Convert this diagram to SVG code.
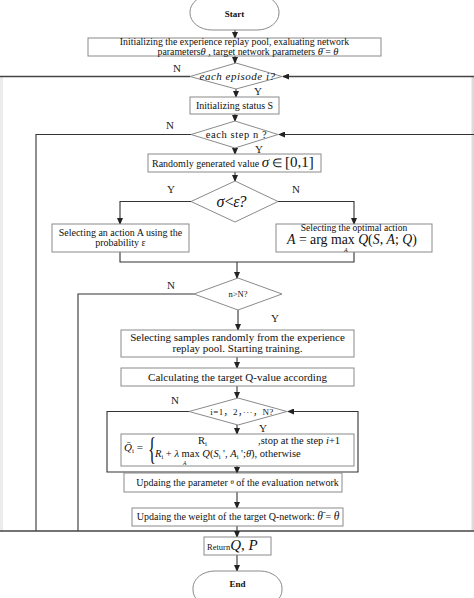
<svg xmlns="http://www.w3.org/2000/svg" width="474" height="598" viewBox="0 0 474 598">
<style>
text{font-family:"Liberation Serif","Times New Roman",serif;fill:#111;}
.t{font-size:10px;}
.c{text-anchor:middle;}
.i{font-style:italic;}
.lab{font-size:11px;text-anchor:middle;fill:#222;}
.box{fill:#fff;stroke:#8a8a8a;stroke-width:1;}
.dia{fill:#fff;stroke:#8a8a8a;stroke-width:1;}
.ln{fill:none;stroke:#333;stroke-width:1.1;}
.ar{fill:none;stroke:#333;stroke-width:1.1;marker-end:url(#ah);}
.frame{fill:none;stroke:#444;stroke-width:1.6;}
</style>
<defs>
<marker id="ah" markerWidth="7" markerHeight="6" refX="6" refY="3" orient="auto" markerUnits="userSpaceOnUse">
<path d="M0,0 L7,3 L0,6 z" fill="#222"/>
</marker>
</defs>
<rect width="474" height="598" fill="#fff"/>
<rect x="0" y="77" width="3" height="454" fill="#ececec"/>
<rect x="471.5" y="77" width="2.5" height="454" fill="#dcdcdc"/>

<g id="connectors">
<line class="ar" x1="235" y1="30" x2="235" y2="38"/>
<line class="ar" x1="235" y1="56" x2="235" y2="63"/>
<line class="frame" x1="0" y1="76.5" x2="190" y2="76.5"/>
<line class="frame" x1="474" y1="76.5" x2="283" y2="76.5" style="marker-end:url(#ah)"/>
<line class="ar" x1="236" y1="89" x2="236" y2="97"/>
<line class="ar" x1="235" y1="114" x2="235" y2="121"/>
<polyline class="ln" points="191,134.5 36,134.5 36,531"/>
<line class="ar" x1="474" y1="134.5" x2="279" y2="134.5"/>
<line class="ar" x1="235" y1="148" x2="235" y2="154"/>
<line class="ar" x1="235" y1="172" x2="235" y2="181"/>
<polyline class="ar" points="191,201.5 120,201.5 120,224"/>
<polyline class="ar" points="278,201.5 354,201.5 354,224"/>
<polyline class="ln" points="120,252 120,262 354,262 354,252"/>
<line class="ar" x1="237" y1="262" x2="237" y2="278"/>
<polyline class="ln" points="194,294 78,294 78,531"/>
<line class="ar" x1="238" y1="310" x2="238" y2="330"/>
<line class="ar" x1="237" y1="357" x2="237" y2="368"/>
<line class="ar" x1="237" y1="386" x2="237" y2="398"/>
<polyline class="ar" points="189,411.5 107,411.5 107,472 358,472 358,411.5 288,411.5"/>
<line class="ar" x1="237" y1="425" x2="237" y2="434"/>
<line class="ar" x1="237" y1="466" x2="237" y2="473"/>
<line class="ar" x1="237" y1="492" x2="237" y2="508"/>
<line class="frame" x1="0" y1="531" x2="474" y2="531"/>
<line class="ar" x1="237" y1="526" x2="237" y2="537"/>
<line class="ar" x1="237" y1="555" x2="237" y2="571"/>
</g>

<g id="start">
<rect class="box" x="190" y="-5" width="89" height="35" rx="22" ry="17"/>
<text class="c" x="234.5" y="17" font-size="9" font-weight="bold">Start</text>
</g>

<g id="init">
<rect class="box" x="88" y="38" width="293" height="18"/>
<text class="c" x="234.5" y="45" font-size="9.8">Initializing the experience replay pool, exaluating network</text>
<text class="c" x="248" y="54.5" font-size="9.8">parameters<tspan class="i" font-size="10.5">θ</tspan> ,   target network parameters  <tspan class="i" font-size="10.5">θ̄</tspan> = <tspan class="i" font-size="10.5">θ</tspan></text>
</g>

<g id="episode">
<polygon class="dia" points="236,63 282,76.5 236,89 190,76.5"/>
<text class="i c" x="237.5" y="80" font-size="11" letter-spacing="0.5">each episode i?</text>
</g>

<g id="status">
<rect class="box" x="190" y="97" width="89" height="17"/>
<text class="t c" x="234.5" y="108.5">Initializing status S</text>
</g>

<g id="step">
<polygon class="dia" points="235,121 278,134.5 235,148 191,134.5"/>
<text class="c" x="236.5" y="137.5" font-size="10.5" letter-spacing="0.6">each step n ?</text>
</g>

<g id="random">
<rect class="box" x="148" y="154" width="173" height="18"/>
<text x="152" y="166.5"><tspan class="t">Randomly generated value </tspan><tspan class="i" font-size="15">σ</tspan><tspan font-size="12"> ∈ </tspan><tspan font-size="15">[0,1]</tspan></text>
</g>

<g id="compare">
<polygon class="dia" points="235,181 278,201.5 235,222 191,201.5"/>
<text class="i c" x="231" y="207" font-size="16" letter-spacing="-1">σ&lt;ε?</text>
</g>

<g id="explore">
<rect class="box" x="52" y="224" width="137" height="28"/>
<text class="t c" x="120.5" y="236">Selecting an action A using the</text>
<text class="t c" x="120.5" y="246">probability ε</text>
</g>

<g id="exploit">
<rect class="box" x="276" y="224" width="156" height="28"/>
<text class="c" x="354" y="231" font-size="9.5">Selecting the optimal action</text>
<text x="287" y="243.5" font-size="13.8"><tspan class="i">A</tspan> = arg max <tspan class="i">Q</tspan>(<tspan class="i">S</tspan>, <tspan class="i">A</tspan>; <tspan class="i">Q</tspan>)</text>
<text class="i" x="344" y="251.5" font-size="6">A</text>
</g>

<g id="nN">
<polygon class="dia" points="238,278 282,294 238,310 194,294"/>
<text class="c" x="238" y="297" font-size="8.5">n&gt;N?</text>
</g>

<g id="samples">
<rect class="box" x="121" y="330" width="233" height="27"/>
<text class="c" x="237.5" y="341" font-size="11">Selecting samples randomly from the experience</text>
<text class="c" x="237.5" y="351.5" font-size="11">replay pool. Starting training.</text>
</g>

<g id="calc">
<rect class="box" x="121" y="368" width="233" height="18"/>
<text class="c" x="237.5" y="380.5" font-size="11">Calculating the target Q-value according</text>
</g>

<g id="iloop">
<polygon class="dia" points="238,398 287,411.5 238,425 189,411.5"/>
<text class="c" x="242" y="414.5" font-size="9" letter-spacing="0.4" style="font-family:'Liberation Serif','Noto Sans CJK SC',serif">i=1，2，···，N?</text>
</g>

<g id="formula">
<rect class="box" x="121" y="434" width="233" height="32"/>
<text x="124" y="451" font-size="11"><tspan class="i">Q̄</tspan><tspan font-size="7" dy="2">i</tspan><tspan dy="-2"> =</tspan></text>
<text transform="translate(148,460) scale(0.6,1.1)" font-size="28">{</text>
<text x="198" y="444" font-size="10.5">R<tspan font-size="7" dy="2">i</tspan></text>
<text x="258" y="444" font-size="10.5">,stop at the step <tspan class="i">i</tspan>+1</text>
<text x="155" y="457" font-size="10.5"><tspan class="i">R</tspan><tspan font-size="6.5" dy="2">i</tspan><tspan dy="-2"> + </tspan><tspan class="i">λ</tspan> max <tspan class="i">Q</tspan>(<tspan class="i">S</tspan><tspan font-size="6.5" dy="2">i</tspan><tspan dy="-2"> ', </tspan><tspan class="i">A</tspan><tspan font-size="6.5" dy="2">i</tspan><tspan dy="-2"> ';</tspan><tspan class="i">θ̄</tspan>), otherwise</text>
<text class="i" x="183" y="464.5" font-size="5.5">A</text>
</g>

<g id="update">
<rect class="box" x="124" y="473" width="218" height="19"/>
<text class="t c" x="237.5" y="485.5">Updaing the parameter  <tspan font-size="7" dy="-1.5">θ</tspan><tspan dy="1.5"> of the evaluation network</tspan></text>
</g>

<g id="weight">
<rect class="box" x="132" y="508" width="211" height="18"/>
<text class="t c" x="238" y="520">Updaing the weight of the target Q-network:  <tspan class="i" font-size="11.5">θ̄</tspan> = <tspan class="i" font-size="11.5">θ</tspan></text>
</g>

<g id="return">
<rect class="box" x="204" y="537" width="67" height="18"/>
<text x="207" y="550" font-size="8.5">Return<tspan class="i" font-size="15">Q</tspan><tspan font-size="15">, </tspan><tspan class="i" font-size="15">P</tspan></text>
</g>

<g id="end">
<rect class="box" x="193" y="571" width="89" height="36" rx="22" ry="17"/>
<text class="c" x="237.5" y="587" font-size="9" font-weight="bold">End</text>
</g>

<g id="labels">
<text class="lab" x="177" y="72">N</text>
<text class="lab" x="258" y="95">Y</text>
<text class="lab" x="170" y="129">N</text>
<text class="lab" x="259" y="153">Y</text>
<text class="lab" x="171" y="193">Y</text>
<text class="lab" x="296" y="193">N</text>
<text class="lab" x="171" y="289">N</text>
<text class="lab" x="275" y="322">Y</text>
<text class="lab" x="175" y="404">N</text>
<text class="lab" x="263" y="432">Y</text>
</g>
</svg>
